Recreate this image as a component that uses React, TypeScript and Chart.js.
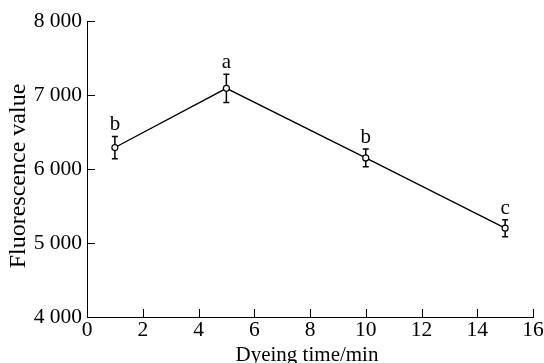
import React, { useEffect, useRef } from "react";
import { Chart, registerables } from "chart.js";

Chart.register(...registerables);

const xValues = [1, 5, 10, 15];
const yValues = [6290, 7090, 6150, 5200];
const errors = [150, 190, 120, 115];
const letters = ["b", "a", "b", "c"];
const xTicks = [0, 2, 4, 6, 8, 10, 12, 14, 16];
const yTicks = [4000, 5000, 6000, 7000, 8000];
const yTitle = "Fluorescence value";
const xTitle = "Dyeing time/min";

const FONT = "'Liberation Serif', 'Times New Roman', serif";

const extrasPlugin = {
  id: "extras",
  beforeDatasetsDraw(chart: any) {
    const ctx = chart.ctx;
    const xs = chart.scales.x;
    const ys = chart.scales.y;
    ctx.save();
    ctx.strokeStyle = "#000";
    ctx.lineWidth = 1.5;
    xValues.forEach((xv, i) => {
      const px = xs.getPixelForValue(xv);
      const top = ys.getPixelForValue(yValues[i] + errors[i]);
      const bot = ys.getPixelForValue(yValues[i] - errors[i]);
      ctx.beginPath();
      ctx.moveTo(px, top);
      ctx.lineTo(px, bot);
      ctx.moveTo(px - 3, top);
      ctx.lineTo(px + 3, top);
      ctx.moveTo(px - 3, bot);
      ctx.lineTo(px + 3, bot);
      ctx.stroke();
    });
    ctx.restore();
  },
  afterDraw(chart: any) {
    const ctx = chart.ctx;
    const xs = chart.scales.x;
    const ys = chart.scales.y;
    const area = chart.chartArea;
    ctx.save();
    ctx.strokeStyle = "#000";
    ctx.lineWidth = 1;
    ctx.beginPath();
    xTicks.forEach((t) => {
      const px = Math.round(xs.getPixelForValue(t)) + 0.5;
      ctx.moveTo(px, area.bottom);
      ctx.lineTo(px, area.bottom - 8);
    });
    yTicks.forEach((t) => {
      const py = Math.round(ys.getPixelForValue(t)) + 0.5;
      ctx.moveTo(area.left, py);
      ctx.lineTo(area.left + 8, py);
    });
    ctx.stroke();
    ctx.fillStyle = "#000";
    ctx.font = `21px ${FONT}`;
    ctx.textAlign = "center";
    ctx.textBaseline = "alphabetic";
    xValues.forEach((xv, i) => {
      const px = xs.getPixelForValue(xv);
      const top = ys.getPixelForValue(yValues[i] + errors[i]);
      ctx.fillText(letters[i], px, top - 6);
    });
    // x axis title
    ctx.fillText(xTitle, (area.left + area.right) / 2 - 3, 361);
    // y axis title
    ctx.save();
    ctx.translate(19, (area.top + area.bottom) / 2 + 7);
    ctx.rotate(-Math.PI / 2);
    ctx.font = `24px ${FONT}`;
    ctx.textAlign = "center";
    ctx.textBaseline = "middle";
    ctx.fillText(yTitle, 0, 0);
    ctx.restore();
    ctx.restore();
  },
};

export default function App() {
  const ref = useRef<HTMLCanvasElement | null>(null);
  useEffect(() => {
    if (!ref.current) return;
    const chart = new Chart(ref.current, {
      type: "line",
      data: {
        datasets: [
          {
            data: xValues.map((x, i) => ({ x, y: yValues[i] })),
            borderColor: "#000",
            borderWidth: 1.3,
            pointRadius: 3,
            pointBackgroundColor: "#fff",
            pointBorderColor: "#000",
            pointBorderWidth: 1.2,
            tension: 0,
          },
        ],
      },
      options: {
        animation: false,
        responsive: false,
        layout: { padding: { top: 21, right: 11, left: 0, bottom: 0 } },
        plugins: { legend: { display: false }, tooltip: { enabled: false } },
        scales: {
          x: {
            type: "linear",
            min: 0,
            max: 16,
            afterBuildTicks: (s: any) => {
              s.ticks = xTicks.map((v) => ({ value: v }));
            },
            afterFit: (s: any) => {
              s.height = 46;
            },
            grid: { display: false, drawTicks: false },
            border: { display: true, color: "#000", width: 1 },
            ticks: {
              color: "#000",
              padding: 0,
              maxRotation: 0,
              font: { family: FONT, size: 21.5 },
            },
          },
          y: {
            type: "linear",
            min: 4000,
            max: 8000,
            afterBuildTicks: (s: any) => {
              s.ticks = yTicks.map((v) => ({ value: v }));
            },
            afterFit: (s: any) => {
              s.width = 87;
            },
            grid: { display: false, drawTicks: false },
            border: { display: true, color: "#000", width: 1 },
            ticks: {
              color: "#000",
              padding: 5,
              font: { family: FONT, size: 21.5 },
              callback: (v: any) => {
                const n = Number(v);
                const th = Math.floor(n / 1000);
                const rest = String(n % 1000).padStart(3, "0");
                return `${th} ${rest}`;
              },
            },
          },
        },
      },
      plugins: [extrasPlugin],
    });
    return () => chart.destroy();
  }, []);
  return (
    <div style={{ position: "fixed", left: 0, top: 0, width: 544, height: 363, background: "#fff" }}>
      <canvas ref={ref} width={544} height={363} style={{ width: 544, height: 363, display: "block" }} />
    </div>
  );
}
